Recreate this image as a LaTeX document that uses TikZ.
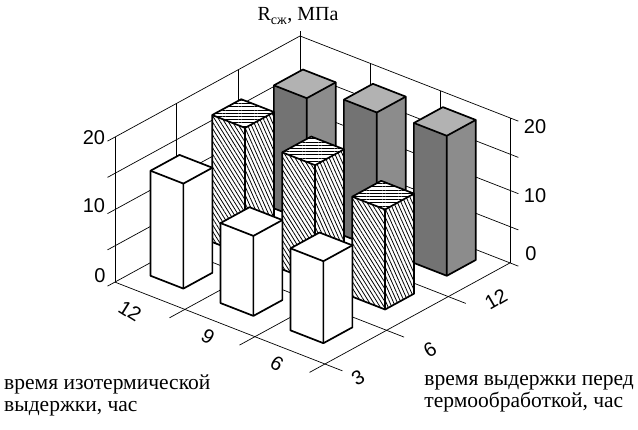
\documentclass[tikz,border=0pt]{standalone}
\usepackage{fontspec}
\setmainfont{Liberation Serif}
\newfontfamily\numf{Liberation Sans}
\usetikzlibrary{patterns.meta}
\tikzset{
  wall/.style={line width=0.7pt},
  barline/.style={line width=1.7pt, line join=round},
  wl/.style={fill=white}, wr/.style={fill=white}, wt/.style={fill=white},
  hl/.style={preaction={fill=white}, pattern={Lines[angle=-58,distance=3.4pt,line width=0.8pt]}},
  hr/.style={preaction={fill=white}, pattern={Lines[angle=-66,distance=3.4pt,line width=0.8pt]}},
  ht/.style={preaction={fill=white}, pattern={Lines[angle=0,distance=3.2pt,line width=0.8pt]}},
  dl/.style={fill=black!55}, dr/.style={fill=black!45}, dt/.style={fill=black!30},
  numlab/.style={font=\numf\fontsize{20}{20}\selectfont},
  axlab/.style={font=\fontsize{21.5}{22}\selectfont, align=left, inner sep=0pt}
}
\def\P#1#2#3{({300-61.7*(#1)+70*(#2)},{181+33.7*(#1)+27.3*(#2)-(#3)})}
\newcommand\mybar[6]{%
  \pgfmathsetmacro\ua{#1+0.18}\pgfmathsetmacro\ub{#1+0.65}%
  \pgfmathsetmacro\va{#2+0.2}\pgfmathsetmacro\vb{#2+0.67}%
  \fill[#4] \P{\ub}{\va}{0} -- \P{\ub}{\vb}{0} -- \P{\ub}{\vb}{#3} -- \P{\ub}{\va}{#3} -- cycle;
  \fill[#5] \P{\ua}{\vb}{0} -- \P{\ub}{\vb}{0} -- \P{\ub}{\vb}{#3} -- \P{\ua}{\vb}{#3} -- cycle;
  \fill[#6] \P{\ua}{\va}{#3} -- \P{\ub}{\va}{#3} -- \P{\ub}{\vb}{#3} -- \P{\ua}{\vb}{#3} -- cycle;
  \draw[barline] \P{\ub}{\va}{0} -- \P{\ub}{\vb}{0} -- \P{\ua}{\vb}{0} -- \P{\ua}{\vb}{#3}
     -- \P{\ua}{\va}{#3} -- \P{\ub}{\va}{#3} -- cycle;
  \draw[barline] \P{\ub}{\vb}{0} -- \P{\ub}{\vb}{#3} -- \P{\ua}{\vb}{#3};
  \draw[barline] \P{\ub}{\vb}{#3} -- \P{\ub}{\va}{#3};
}
\begin{document}
\begin{tikzpicture}[x=1pt,y=-1pt]
\useasboundingbox (0,0) rectangle (638,430);
\fill[white] (0,0) rectangle (638,430);
% walls
\foreach \k in {0,1,2,3,4}{
  \draw[wall] \P{3.12}{0}{\k*36.25} -- \P{0}{0}{\k*36.25} -- \P{0}{3.12}{\k*36.25};
}
\foreach \t in {1,2,3}{
  \draw[wall] \P{\t}{0}{0} -- \P{\t}{0}{145};
  \draw[wall] \P{0}{\t}{0} -- \P{0}{\t}{145};
}
\draw[wall] \P{0}{0}{0} -- \P{0}{0}{150};
% floor
\foreach \t in {1,2,3}{
  \draw[wall] \P{\t}{0}{0} -- \P{\t}{3.25}{0};
  \draw[wall] \P{0}{\t}{0} -- \P{3.25}{\t}{0};
}
% bars (back to front)
\mybar{0}{0}{123}{dl}{dr}{dt}
\mybar{0}{1}{136}{dl}{dr}{dt}
\mybar{1}{0}{127}{hl}{hr}{ht}
\mybar{0}{2}{140}{dl}{dr}{dt}
\mybar{1}{1}{117}{hl}{hr}{ht}
\mybar{2}{0}{105}{wl}{wr}{wt}
\mybar{1}{2}{100}{hl}{hr}{ht}
\mybar{2}{1}{80}{wl}{wr}{wt}
\mybar{2}{2}{82}{wl}{wr}{wt}
% value labels
\node[numlab] (l0) at (100,276) {0};
\node[numlab] (l10) at (94,206) {10};
\node[numlab] (l20) at (94,138) {20};
\node[numlab] (r0) at (531,254) {0};
\node[numlab] (r10) at (535,196) {10};
\node[numlab] (r20) at (535,127) {20};
% floor labels
\node[numlab, rotate=-32, inner sep=0pt] (f12) at (130,311) {12};
\node[numlab, rotate=-32, inner sep=0pt] (f9) at (208,337) {9};
\node[numlab, rotate=-32, inner sep=0pt] (f6) at (277,364) {6};
\node[numlab, rotate=30, inner sep=0pt] (g3) at (358,378) {3};
\node[numlab, rotate=30, inner sep=0pt] (g6) at (430,350) {6};
\node[numlab, rotate=30, inner sep=0pt] (g12) at (496,299) {12};
% titles
\node[font=\fontsize{20}{20}\selectfont] (title) at (298,16) {R\textsubscript{сж}, МПа};
\node[axlab, anchor=north west] (xl) at (4,375) {время изотермической\\выдержки, час};
\node[axlab, anchor=north east] (yl) at (634,375) {время выдержки перед\\термообработкой, час};
\end{tikzpicture}
\end{document}
